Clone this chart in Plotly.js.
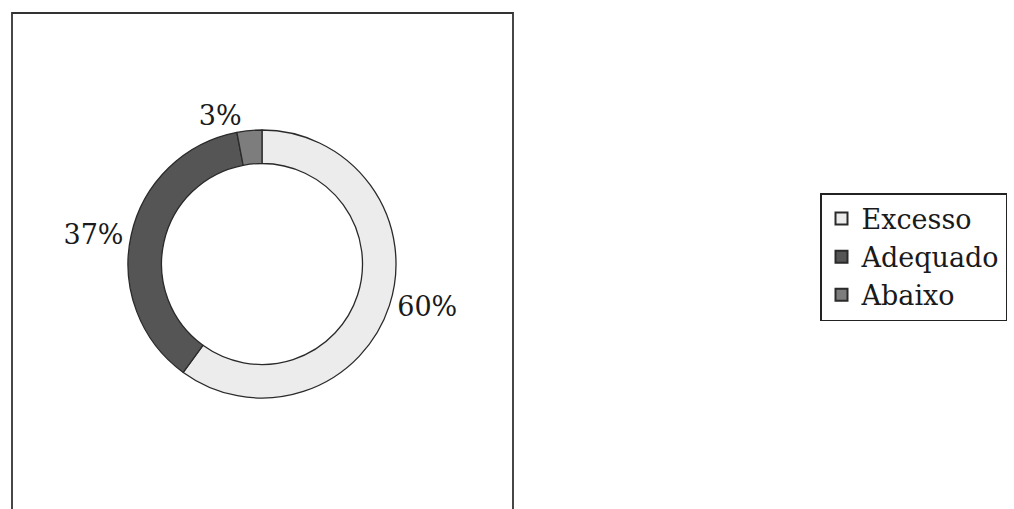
<!DOCTYPE html>
<html><head><meta charset="utf-8">
<script src="https://cdn.plot.ly/plotly-3.0.1.min.js"></script>
<style>html,body{margin:0;padding:0;background:#fff}#chart{width:1014px;height:509px}</style>
</head><body><div id="chart"></div>
<script>
const categories = ["Excesso", "Adequado", "Abaixo"];
const values = [60, 37, 3];
const sliceColors = ["#ececec", "#555555", "#7d7d7d"];

const W = 1014, H = 509;
const cx = 262, cy = 264, r = 134;

const trace = {
  type: "pie",
  labels: categories,
  values: values,
  sort: false,
  direction: "clockwise",
  rotation: 0,
  hole: 0.75,
  marker: {colors: sliceColors, line: {color: "#2a2a2a", width: 1.3}},
  textinfo: "percent",
  texttemplate: "%{percent:.0%}",
  textposition: "outside",
  outsidetextfont: {family: "DejaVu Serif, serif", size: 27, color: "#1a1a1a"},
  automargin: false,
  domain: {x: [(cx - r) / W, (cx + r) / W], y: [(H - cy - r) / H, (H - cy + r) / H]}
};

const layout = {
  width: W, height: H,
  margin: {l: 0, r: 0, t: 0, b: 0},
  paper_bgcolor: "#fff",
  showlegend: true,
  legend: {
    x: 820 / W, y: (H - 193) / H, xanchor: "left", yanchor: "top",
    bordercolor: "#222", borderwidth: 1.5, bgcolor: "#fff",
    font: {family: "DejaVu Serif, serif", size: 27, color: "#1a1a1a"},
    itemsizing: "constant", tracegroupgap: 0, itemwidth: 30
  },
  shapes: [{
    type: "rect", xref: "paper", yref: "paper",
    x0: 12 / W, x1: 513 / W, y0: -0.05, y1: (H - 13) / H,
    line: {color: "#333", width: 1.8}, fillcolor: "rgba(0,0,0,0)"
  }]
};

Plotly.newPlot("chart", [trace], layout, {displayModeBar: false});
</script></body></html>
